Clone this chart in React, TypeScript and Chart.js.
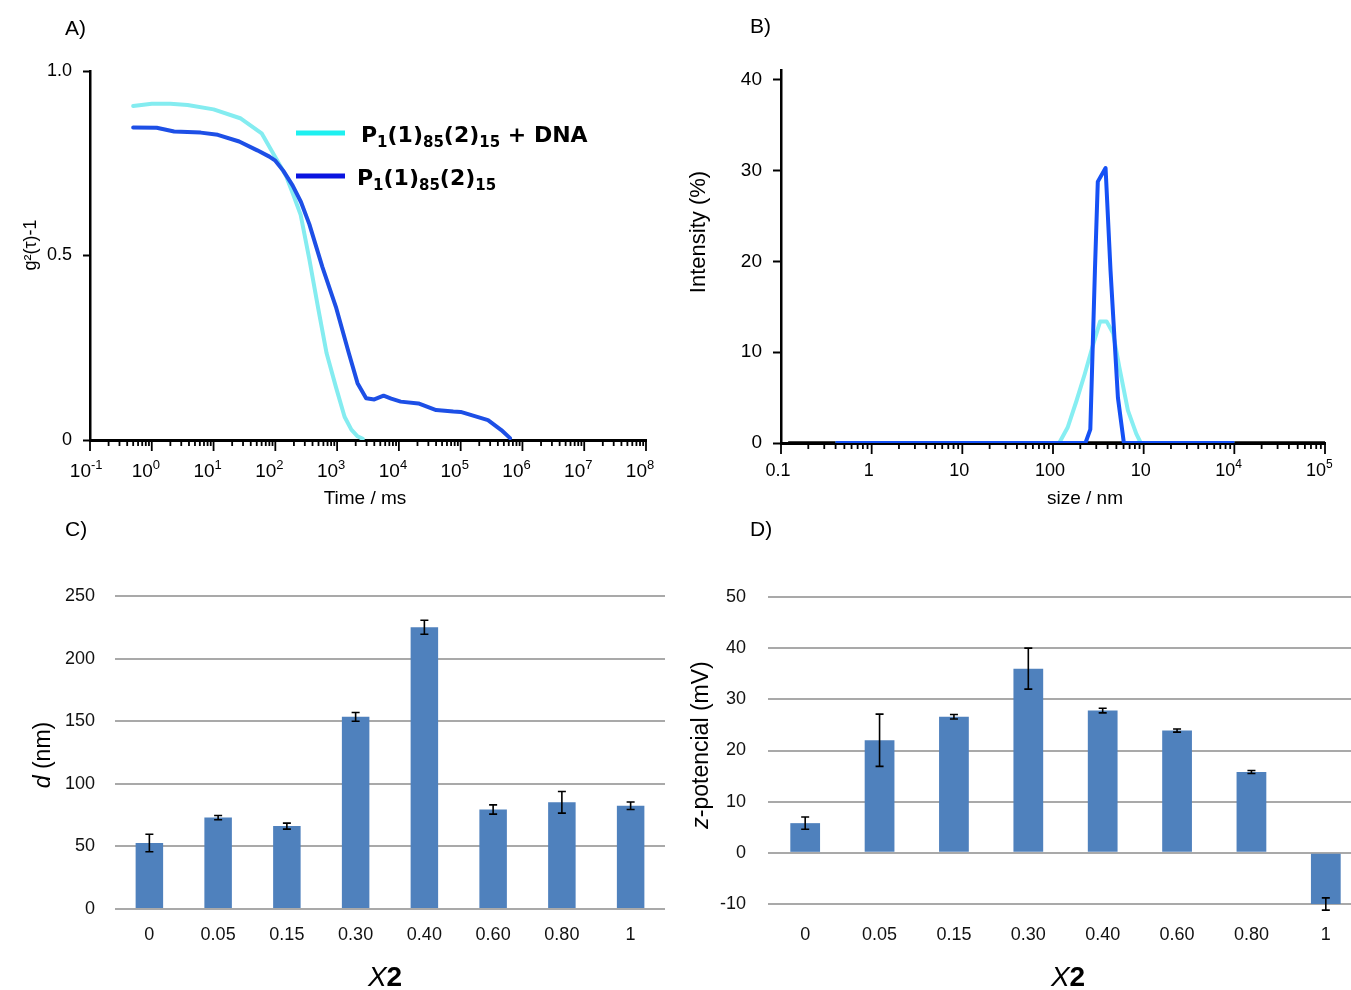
import React, { useEffect, useRef } from 'react';
import { Chart, registerables } from 'chart.js';

Chart.register(...registerables);

const SANS = '"Liberation Sans", Arial, Helvetica, sans-serif';
const WIDE = '"DejaVu Sans", Verdana, sans-serif';

// ---------- Panel A : correlation functions ----------
const timeComplexMs = [0.5, 1, 2, 3.8, 10, 27, 60, 100, 150, 200, 257, 355, 490, 676, 955, 1320, 1700, 2140, 2600];
const g2Complex = [0.905, 0.911, 0.911, 0.908, 0.896, 0.872, 0.831, 0.766, 0.715, 0.66, 0.61, 0.49, 0.36, 0.235, 0.144, 0.063, 0.028, 0.01, 0.003];
const timeFreeMs = [0.5, 1.2, 2.3, 6.2, 11.7, 26, 51, 80, 100, 134, 190, 260, 355, 575, 955, 1550, 2140, 2950, 4000, 5650, 7500, 10700, 20700, 40000, 76000, 100000, 145000, 277000, 455000, 630000];
const g2Free = [0.847, 0.846, 0.836, 0.833, 0.827, 0.809, 0.785, 0.768, 0.757, 0.73, 0.69, 0.645, 0.585, 0.47, 0.361, 0.235, 0.154, 0.113, 0.11, 0.12, 0.112, 0.104, 0.099, 0.081, 0.077, 0.076, 0.068, 0.054, 0.027, 0.005];
const g2Ticks = [0, 0.5, 1.0];
const timeTickExponents = ['-1', '0', '1', '2', '3', '4', '5', '6', '7', '8'];

// ---------- Panel B : size distributions ----------
const sizeComplexNm = [0.4, 117, 145, 181, 224, 280, 331, 390, 460, 538, 670, 830, 930, 10000];
const intensityComplex = [0, 0, 1.7, 4.6, 7.6, 11, 13.4, 13.4, 12.1, 8.4, 3.6, 1.0, 0, 0];
const sizeFreeNm = [0.4, 100, 228, 258, 290, 312, 380, 431, 520, 605, 10000];
const intensityFree = [0, 0, 0, 1.5, 19, 28.8, 30.3, 19, 5, 0, 0];
const sizeBaselineNm = [0.12, 100000];
const intensityBaseline = [0, 0];
const intensityTicks = [0, 10, 20, 30, 40];
const sizeTickValues = [0.1, 1, 10, 100, 1000, 10000, 100000];
const sizeTickBase = ['0.1', '1', '10', '100', '10', '10', '10'];
const sizeTickSup = ['', '', '', '', '', '4', '5'];

// ---------- Panels C / D ----------
const x2Categories = ['0', '0.05', '0.15', '0.30', '0.40', '0.60', '0.80', '1'];
const diameterNm = [52.7, 73, 66.2, 153.5, 225, 79.5, 85.2, 82.5];
const diameterErr = [7, 1.7, 2.4, 3.5, 5.6, 3.7, 8.6, 3];
const zetaMv = [5.8, 22, 26.6, 36, 27.8, 23.9, 15.8, -10];
const zetaErr = [1.2, 5.1, 0.45, 4, 0.45, 0.3, 0.3, 1.2];

const seriesNames = ['P1(1)85(2)15 + DNA', 'P1(1)85(2)15'];

type Seg = { t: string; size: number; bold?: boolean; italic?: boolean; family?: string; dy?: number };
const fontOf = (s: Seg) => `${s.italic ? 'italic ' : ''}${s.bold ? 'bold ' : ''}${s.size}px ${s.family || SANS}`;

function drawRich(ctx: CanvasRenderingContext2D, segs: Seg[], x: number, yMid: number, align: 'left' | 'center' | 'right', rot = 0) {
  ctx.save();
  ctx.translate(x, yMid);
  if (rot) ctx.rotate(rot);
  ctx.textAlign = 'left';
  ctx.textBaseline = 'alphabetic';
  ctx.fillStyle = '#000';
  const ws = segs.map((s) => { ctx.font = fontOf(s); return ctx.measureText(s.t).width; });
  const total = ws.reduce((a, b) => a + b, 0);
  let cx = align === 'center' ? -total / 2 : align === 'right' ? -total : 0;
  const base = segs[0].size * 0.36;
  segs.forEach((s, i) => { ctx.font = fontOf(s); ctx.fillText(s.t, cx, base + (s.dy || 0)); cx += ws[i]; });
  ctx.restore();
}

function richName(name: string, size: number, sub: number): Seg[] {
  // P1(1)85(2)15 -> subscripts after P, after (1), after (2)
  const m = name.match(/^P(\d)\((\d)\)(\d+)\((\d)\)(\d+)(.*)$/);
  if (!m) return [{ t: name, size, bold: true, family: WIDE }];
  const b = { bold: true, family: WIDE };
  return [
    { t: 'P', size, ...b },
    { t: m[1], size: sub, dy: 5, ...b },
    { t: `(${m[2]})`, size, ...b },
    { t: m[3], size: sub, dy: 5, ...b },
    { t: `(${m[4]})`, size, ...b },
    { t: m[5], size: sub, dy: 5, ...b },
    { t: m[6], size, ...b },
  ];
}

function drawLogAxis(chart: any, labels: { value: number; base: string; sup: string }[], fontSize: number, supSize: number, labelMid: number) {
  const ctx: CanvasRenderingContext2D = chart.ctx;
  const xs = chart.scales.x;
  const yb = chart.chartArea.bottom;
  const minExp = Math.round(Math.log10(xs.min));
  const maxExp = Math.round(Math.log10(xs.max));
  ctx.save();
  ctx.strokeStyle = '#000';
  ctx.lineWidth = 1.8;
  for (let e = minExp; e <= maxExp; e++) {
    for (let k = 1; k <= 9; k++) {
      if (e === maxExp && k > 1) break;
      const px = xs.getPixelForValue(k * Math.pow(10, e));
      const len = k === 1 ? 11 : 6;
      ctx.beginPath();
      ctx.moveTo(px, yb);
      ctx.lineTo(px, yb + len);
      ctx.stroke();
    }
  }
  ctx.restore();
  labels.forEach((l) => {
    const px = xs.getPixelForValue(l.value);
    if (l.sup) {
      ctx.save();
      ctx.font = `${fontSize}px ${SANS}`;
      const w = ctx.measureText(l.base).width;
      ctx.restore();
      drawRich(ctx, [{ t: l.base, size: fontSize }, { t: l.sup, size: supSize, dy: -8 }], px + 1 - w, labelMid, 'left');
    } else {
      drawRich(ctx, [{ t: l.base, size: fontSize }], px - 3, labelMid, 'center');
    }
  });
}

function errorBarPlugin(errors: number[]) {
  return {
    id: 'errorBars',
    afterDatasetsDraw(chart: any) {
      const meta = chart.getDatasetMeta(0);
      const ys = chart.scales.y;
      const vals = chart.data.datasets[0].data as number[];
      const ctx: CanvasRenderingContext2D = chart.ctx;
      ctx.save();
      ctx.strokeStyle = '#000';
      ctx.lineWidth = 1.6;
      meta.data.forEach((bar: any, i: number) => {
        const x = bar.x;
        const top = ys.getPixelForValue(vals[i] + errors[i]);
        const bot = ys.getPixelForValue(vals[i] - errors[i]);
        ctx.beginPath();
        ctx.moveTo(x, top); ctx.lineTo(x, bot);
        ctx.moveTo(x - 4, top); ctx.lineTo(x + 4, top);
        ctx.moveTo(x - 4, bot); ctx.lineTo(x + 4, bot);
        ctx.stroke();
      });
      ctx.restore();
    },
  };
}

const pts = (xs: number[], ys: number[]) => xs.map((x, i) => ({ x, y: ys[i] }));

function configA(): any {
  return {
    type: 'scatter',
    data: {
      datasets: [
        { label: seriesNames[1], data: pts(timeFreeMs, g2Free), showLine: true, borderColor: '#1d4fe6', borderWidth: 4, pointRadius: 0, borderJoinStyle: 'round', borderCapStyle: 'round', order: 1 },
        { label: seriesNames[0], data: pts(timeComplexMs, g2Complex), showLine: true, borderColor: '#84ecf0', borderWidth: 4, pointRadius: 0, borderJoinStyle: 'round', borderCapStyle: 'round', order: 2 },
      ],
    },
    options: {
      responsive: false,
      animation: false,
      layout: { padding: { top: 71, right: 30, left: 0, bottom: 0 } },
      plugins: { legend: { display: false }, tooltip: { enabled: false } },
      scales: {
        x: {
          type: 'logarithmic', min: 0.1, max: 1e8,
          ticks: { display: false },
          grid: { display: false, drawTicks: false },
          border: { display: true, color: '#000', width: 3 },
          afterFit: (s: any) => { s.height = 70; },
        },
        y: {
          min: 0, max: 1,
          afterBuildTicks: (s: any) => { s.ticks = g2Ticks.map((v) => ({ value: v })); },
          ticks: { callback: (v: any) => (v === 0 ? '0' : Number(v).toFixed(1)), padding: 11, font: { size: 18, family: SANS }, color: '#000' },
          grid: { drawOnChartArea: false, drawTicks: true, tickLength: 7, tickWidth: 2, tickColor: '#000' },
          border: { display: true, color: '#000', width: 2.5 },
          afterFit: (s: any) => { s.width = 90; },
        },
      },
    },
    plugins: [{
      id: 'decorA',
      afterDraw(chart: any) {
        const ctx: CanvasRenderingContext2D = chart.ctx;
        drawLogAxis(chart, timeTickExponents.map((e) => ({ value: Math.pow(10, Number(e)), base: '10', sup: e })), 19, 13, 470);
        drawRich(ctx, [{ t: 'A)', size: 21 }], 65, 27, 'left');
        drawRich(ctx, [{ t: 'g²(τ)-1', size: 18 }], 30, 245, 'center', -Math.PI / 2);
        drawRich(ctx, [{ t: 'Time / ms', size: 19 }], 365, 497, 'center');
        // legend
        const entries = [
          { name: seriesNames[0], color: '#1ef0f0', y: 133, tx: 361 },
          { name: seriesNames[1], color: '#0a14e0', y: 176, tx: 357 },
        ];
        entries.forEach((en) => {
          ctx.save();
          ctx.strokeStyle = en.color;
          ctx.lineWidth = 5;
          ctx.beginPath();
          ctx.moveTo(296, en.y);
          ctx.lineTo(345, en.y);
          ctx.stroke();
          ctx.restore();
          drawRich(ctx, richName(en.name, 22, 15), en.tx, en.y + 1, 'left');
        });
      },
    }],
  };
}

function configB(): any {
  return {
    type: 'scatter',
    data: {
      datasets: [
        { label: 'baseline', data: pts(sizeBaselineNm, intensityBaseline), showLine: true, borderColor: '#000', borderWidth: 3.5, pointRadius: 0, order: 3 },
        { label: seriesNames[0], data: pts(sizeComplexNm, intensityComplex), showLine: true, borderColor: '#86eef2', borderWidth: 4, pointRadius: 0, borderJoinStyle: 'round', order: 2 },
        { label: seriesNames[1], data: pts(sizeFreeNm, intensityFree), showLine: true, borderColor: '#1551f5', borderWidth: 4, pointRadius: 0, borderJoinStyle: 'round', order: 1 },
      ],
    },
    options: {
      responsive: false,
      animation: false,
      layout: { padding: { top: 70, right: 26, left: 0, bottom: 0 } },
      plugins: { legend: { display: false }, tooltip: { enabled: false } },
      scales: {
        x: {
          type: 'logarithmic', min: 0.1, max: 1e5,
          ticks: { display: false },
          grid: { display: false, drawTicks: false },
          border: { display: true, color: '#000', width: 3 },
          afterFit: (s: any) => { s.height = 67; },
        },
        y: {
          min: 0, max: 41.1,
          afterBuildTicks: (s: any) => { s.ticks = intensityTicks.map((v) => ({ value: v })); },
          ticks: { padding: 11, font: { size: 19, family: SANS }, color: '#000' },
          grid: { drawOnChartArea: false, drawTicks: true, tickLength: 8, tickWidth: 2, tickColor: '#000' },
          border: { display: true, color: '#000', width: 2.5 },
          afterFit: (s: any) => { s.width = 105; },
        },
      },
    },
    plugins: [{
      id: 'decorB',
      afterDraw(chart: any) {
        const ctx: CanvasRenderingContext2D = chart.ctx;
        drawLogAxis(chart, sizeTickValues.map((v, i) => ({ value: v, base: sizeTickBase[i], sup: sizeTickSup[i] })), 18, 12, 470);
        drawRich(ctx, [{ t: 'B)', size: 21 }], 74, 25, 'left');
        drawRich(ctx, [{ t: 'Intensity (%)', size: 22 }], 21, 232, 'center', -Math.PI / 2);
        drawRich(ctx, [{ t: 'size / nm', size: 19 }], 409, 497, 'center');
      },
    }],
  };
}

function barConfig(values: number[], errors: number[], opts: {
  min: number; max: number; step: number; padTop: number; padRight: number; yWidth: number; xHeight: number;
  yPad: number; xPad: number; panel: string; panelX: number; yTitle: Seg[]; yTitleX: number; yTitleY: number; xTitleX: number;
}): any {
  return {
    type: 'bar',
    data: {
      labels: x2Categories,
      datasets: [{ data: values, backgroundColor: '#4F81BD', borderWidth: 0, categoryPercentage: 1, barPercentage: 0.4 }],
    },
    options: {
      responsive: false,
      animation: false,
      layout: { padding: { top: opts.padTop, right: opts.padRight, left: 0, bottom: 0 } },
      plugins: { legend: { display: false }, tooltip: { enabled: false } },
      scales: {
        x: {
          grid: { display: false, drawTicks: false },
          border: { display: false },
          ticks: { padding: opts.xPad, font: { size: 18, family: SANS }, color: '#111', maxRotation: 0, autoSkip: false },
          afterFit: (s: any) => { s.height = opts.xHeight; },
        },
        y: {
          min: opts.min, max: opts.max,
          ticks: { stepSize: opts.step, padding: opts.yPad, font: { size: 18, family: SANS }, color: '#111' },
          grid: { color: '#a9a9a9', lineWidth: 2, drawTicks: false },
          border: { display: false },
          afterFit: (s: any) => { s.width = opts.yWidth; },
        },
      },
    },
    plugins: [errorBarPlugin(errors), {
      id: 'decorBar',
      afterDraw(chart: any) {
        const ctx: CanvasRenderingContext2D = chart.ctx;
        drawRich(ctx, [{ t: opts.panel, size: 21 }], opts.panelX, 8, 'left');
        drawRich(ctx, opts.yTitle, opts.yTitleX, opts.yTitleY, 'center', -Math.PI / 2);
        drawRich(ctx, [{ t: 'X', size: 28, italic: true }, { t: '2', size: 28, bold: true }], opts.xTitleX, 456, 'center');
      },
    }],
  };
}

function ChartBox({ left, top, width, height, make }: { left: number; top: number; width: number; height: number; make: () => any }) {
  const ref = useRef<HTMLCanvasElement>(null);
  useEffect(() => {
    const chart = new Chart(ref.current as HTMLCanvasElement, make());
    return () => chart.destroy();
  }, []);
  return (
    <div style={{ position: 'absolute', left, top, width, height }}>
      <canvas ref={ref} width={width} height={height} style={{ display: 'block', width, height }} />
    </div>
  );
}

export default function App() {
  return (
    <div style={{ position: 'fixed', left: 0, top: 0, width: 1351, height: 990, overflow: 'hidden', background: '#fff' }}>
      <ChartBox left={0} top={0} width={676} height={510} make={configA} />
      <ChartBox left={676} top={0} width={675} height={510} make={configB} />
      <ChartBox left={0} top={520} width={676} height={470} make={() => barConfig(diameterNm, diameterErr, {
        min: 0, max: 250, step: 50, padTop: 76, padRight: 11, yWidth: 115, xHeight: 81, yPad: 20, xPad: 15,
        panel: 'C)', panelX: 65,
        yTitle: [{ t: 'd', size: 23, italic: true }, { t: ' (nm)', size: 23 }], yTitleX: 42, yTitleY: 235, xTitleX: 385,
      })} />
      <ChartBox left={676} top={520} width={688} height={470} make={() => barConfig(zetaMv, zetaErr, {
        min: -10, max: 50, step: 10, padTop: 77, padRight: 1, yWidth: 92, xHeight: 86, yPad: 22, xPad: 20,
        panel: 'D)', panelX: 74,
        yTitle: [{ t: 'z', size: 23, italic: true }, { t: '-potencial (mV)', size: 23 }], yTitleX: 24, yTitleY: 225, xTitleX: 392,
      })} />
    </div>
  );
}
